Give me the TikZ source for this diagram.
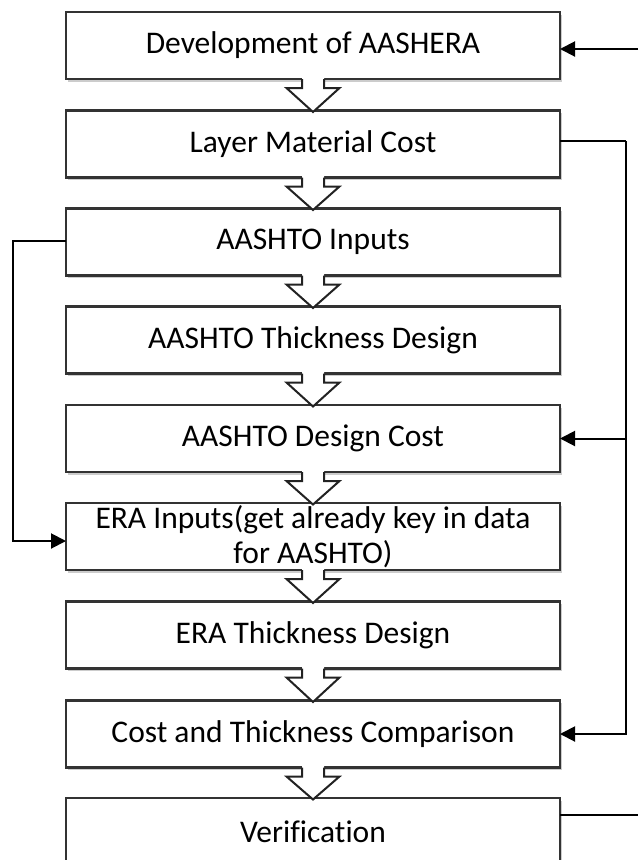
\documentclass[tikz,border=0pt]{standalone}
\usepackage{fontspec}
\setmainfont[Ligatures=NoCommon]{Carlito}
\usetikzlibrary{arrows.meta,calc,shadows}
\definecolor{boxgray}{HTML}{333333}
\definecolor{arrowgray}{HTML}{222222}
\begin{document}
\begin{tikzpicture}[x=1pt,y=-1pt,
  box/.style={draw=boxgray, line width=2.6pt, fill=white, minimum width=494pt,
    minimum height=67pt, inner sep=0pt, outer sep=0pt, align=center,
    font=\fontsize{31.5}{35}\selectfont,
    drop shadow={shadow xshift=2pt,shadow yshift=-2.5pt,opacity=0.2,fill=black}},
  conn/.style={line width=2pt, -{Triangle[length=15pt,width=15pt]}},
  plainline/.style={line width=2pt},
  thinline/.style={line width=1.4pt},
  barrow/.style={draw=arrowgray, line width=2pt, line join=miter},
]
\useasboundingbox (0,0) rectangle (638,860);

\node[box] (dev) at (313,45.5)  {Development of AASHERA};
\node[box] (lmc) at (313,144)   {Layer Material Cost};
\node[box] (inp) at (313,242)   {AASHTO Inputs};
\node[box] (thk) at (313,340)   {AASHTO Thickness Design};
\node[box] (adc) at (313,438.5) {AASHTO Design Cost};
\node[box] (era) at (313,536.5) {ERA Inputs(get already key in data\\for AASHTO)};
\node[box] (etd) at (313,635)   {ERA Thickness Design};
\node[box] (ctc) at (313,734)   {Cost and Thickness Comparison};
\node[box] (ver) at (313,831.5) {Verification};

\foreach \a/\b in {dev/lmc,lmc/inp,inp/thk,thk/adc,adc/era,era/etd,etd/ctc,ctc/ver}{
  \fill[white] ($(\a.south)+(-11,-1.6)$) -- ($(\a.south)+(-11,9)$) -- ($(\a.south)+(-26.5,9)$)
     -- ($(\b.north)+(0,1.5)$) -- ($(\a.south)+(26.5,9)$) -- ($(\a.south)+(11,9)$)
     -- ($(\a.south)+(11,-1.6)$) -- cycle;
  \draw[barrow] ($(\a.south)+(-11,0)$) -- ($(\a.south)+(-11,9)$) -- ($(\a.south)+(-26.5,9)$)
     -- ($(\b.north)+(0,1.5)$) -- ($(\a.south)+(26.5,9)$) -- ($(\a.south)+(11,9)$)
     -- ($(\a.south)+(11,0)$);
}

% right side connectors
\coordinate (rin) at (638,49);
\draw[conn] (rin) -- (rin -| dev.east);
\coordinate (rx) at (626,141);
\draw[thinline] (rx -| lmc.east) -- (rx);
\draw[conn] (rx) |- (adc.east);
\draw[conn] (rx) |- (ctc.east);
\coordinate (vout) at (638,815);
\draw[plainline] (vout -| ver.east) -- (vout);

% left connector
\coordinate (lx) at (13,241);
\coordinate (lx2) at (13,541);
\draw[conn] (lx -| inp.west) -- (lx) -- (lx2) -- (lx2 -| era.west);
\end{tikzpicture}
\end{document}
